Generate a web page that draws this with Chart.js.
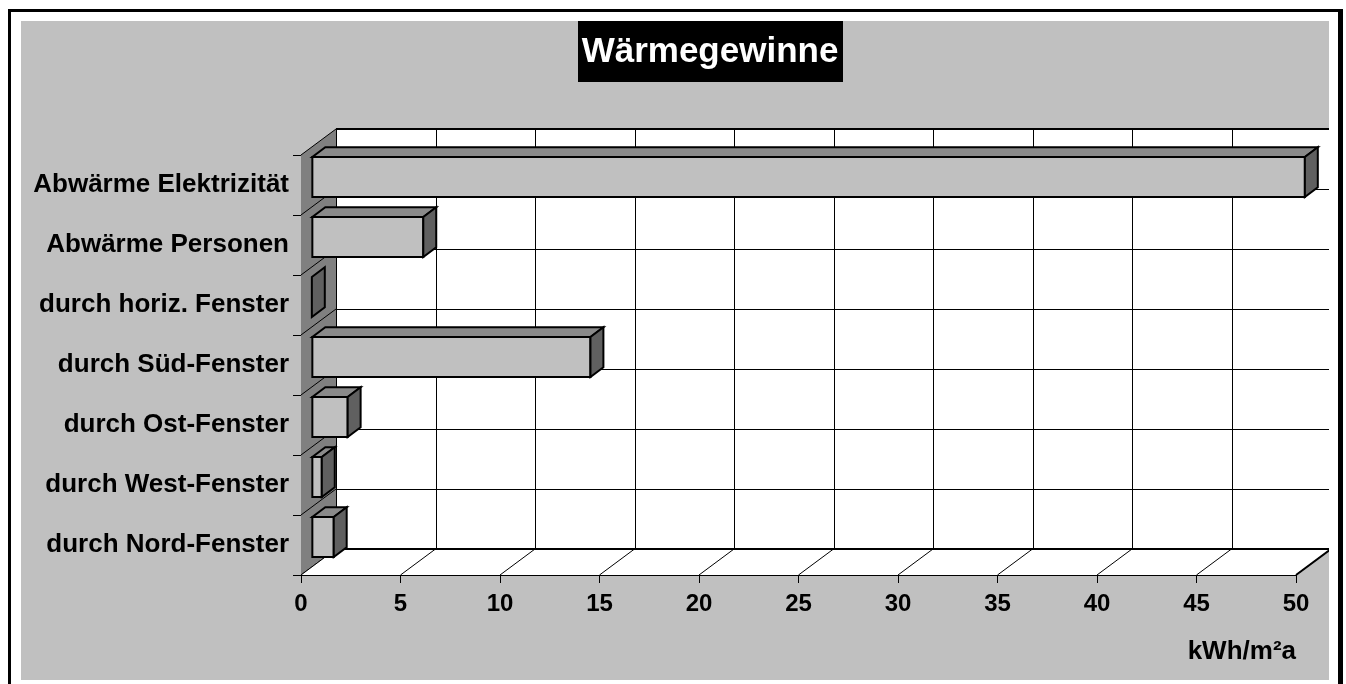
<!DOCTYPE html>
<html>
<head>
<meta charset="utf-8">
<title>Wärmegewinne</title>
<script src="https://cdn.jsdelivr.net/npm/chart.js@4/dist/chart.umd.min.js"></script>
<style>
	body { margin: 0; background: #fff; }
	.frame {
		position: absolute; left: 8px; top: 9px; width: 1327px; height: 700px;
		border-top: 3px solid #000; border-left: 3px solid #000; border-right: 5px solid #000;
	}
	.plot {
		position: absolute; left: 21px; top: 21px; width: 1308px; height: 659px;
		background: #c0c0c0;
	}
	canvas { display: block; }
</style>
</head>
<body>
<div class="frame"></div>
<div class="plot"><canvas id="gains" width="1308" height="659"></canvas></div>
<script>
	'use strict';

	var chartTitle = 'Wärmegewinne';
	var unitLabel = 'kWh/m²a';
	var categories = [
		'Abwärme Elektrizität',
		'Abwärme Personen',
		'durch horiz. Fenster',
		'durch Süd-Fenster',
		'durch Ost-Fenster',
		'durch West-Fenster',
		'durch Nord-Fenster'
	];
	var gains = [49.9, 5.6, 0, 14.0, 1.8, 0.5, 1.1];
	var axisMin = 0, axisMax = 50, axisStep = 5;

	var FONT = '"Liberation Sans", Arial, sans-serif';
	// depth of the fake 3d box and where the bars sit inside it (fractions of depth)
	var DEPTH_X = 35, DEPTH_Y = -26;
	var BAR_FRONT = 0.31, BAR_BACK = 0.68;

	function line(ctx, x1, y1, x2, y2) {
		ctx.beginPath();
		ctx.moveTo(x1, y1);
		ctx.lineTo(x2, y2);
		ctx.stroke();
	}

	function poly(ctx, pts, fill, stroke, width) {
		ctx.beginPath();
		ctx.moveTo(pts[0][0], pts[0][1]);
		for (var i = 1; i < pts.length; i++) ctx.lineTo(pts[i][0], pts[i][1]);
		ctx.closePath();
		if (fill) { ctx.fillStyle = fill; ctx.fill(); }
		if (stroke) { ctx.strokeStyle = stroke; ctx.lineWidth = width || 1; ctx.stroke(); }
	}

	var box3d = {
		id: 'box3d',
		beforeDatasetsDraw: function (chart) {
			var ctx = chart.ctx, a = chart.chartArea,
				xs = chart.scales.x, ys = chart.scales.y,
				L = a.left, R = a.right, T = a.top, B = a.bottom,
				dx = DEPTH_X, dy = DEPTH_Y, i, px, py;

			ctx.save();
			ctx.lineCap = 'butt';

			// back wall
			ctx.fillStyle = '#fff';
			ctx.fillRect(L + dx, T + dy, R - L, B - T);
			ctx.strokeStyle = '#000';
			ctx.lineWidth = 1;
			xs.ticks.forEach(function (t) {
				var x = Math.round(xs.getPixelForValue(t.value) + dx) + 0.5;
				line(ctx, x, T + dy, x, B + dy);
			});
			for (i = 0; i <= categories.length; i++) {
				py = Math.round(ys.getPixelForValue(i - 0.5) + dy) + 0.5;
				line(ctx, L + dx, py, R + dx, py);
			}
			ctx.lineWidth = 2;
			line(ctx, L + dx, T + dy, R + dx, T + dy);

			// left side wall
			poly(ctx, [[L, T], [L + dx, T + dy], [L + dx, B + dy], [L, B]], '#808080');
			ctx.strokeStyle = '#000';
			ctx.lineWidth = 1;
			for (i = 0; i <= categories.length; i++) {
				py = ys.getPixelForValue(i - 0.5);
				line(ctx, L, py, L + dx, py + dy);
			}
			line(ctx, L + dx + 0.5, T + dy, L + dx + 0.5, B + dy);

			// floor
			poly(ctx, [[L, B], [R, B], [R + dx, B + dy], [L + dx, B + dy]], '#fff');
			ctx.strokeStyle = '#000';
			ctx.lineWidth = 1;
			xs.ticks.forEach(function (t) {
				px = xs.getPixelForValue(t.value);
				line(ctx, px, B, px + dx, B + dy);
			});
			line(ctx, L, B + 0.5, R, B + 0.5);
			ctx.lineWidth = 2;
			line(ctx, L + dx, B + dy, R + dx, B + dy);
			line(ctx, R, B, R + dx, B + dy);
			ctx.restore();
		},
		afterDatasetsDraw: function (chart) {
			var ctx = chart.ctx,
				meta = chart.getDatasetMeta(0),
				fx = DEPTH_X * BAR_FRONT, fy = DEPTH_Y * BAR_FRONT,
				ddx = DEPTH_X * (BAR_BACK - BAR_FRONT), ddy = DEPTH_Y * (BAR_BACK - BAR_FRONT);

			ctx.save();
			ctx.lineJoin = 'miter';
			meta.data.forEach(function (bar) {
				var p = bar.getProps(['x', 'y', 'base', 'height'], true),
					x0 = p.base + fx, x1 = p.x + fx,
					y0 = p.y - p.height / 2 + fy, y1 = p.y + p.height / 2 + fy;

				if (x1 - x0 > 0.5) {
					poly(ctx, [[x0, y0], [x1, y0], [x1 + ddx, y0 + ddy], [x0 + ddx, y0 + ddy]], '#8a8a8a', '#000', 2);
					poly(ctx, [[x0, y0], [x1, y0], [x1, y1], [x0, y1]], '#c0c0c0', '#000', 2);
				}
				poly(ctx, [[x1, y0], [x1 + ddx, y0 + ddy], [x1 + ddx, y1 + ddy], [x1, y1]], '#606060', '#000', 2);
			});
			ctx.restore();
		},
		afterDraw: function (chart) {
			var ctx = chart.ctx, cx = 689, w;
			ctx.save();
			ctx.font = 'bold 35px ' + FONT;
			w = ctx.measureText(chartTitle).width + 8;
			ctx.fillStyle = '#000';
			ctx.fillRect(Math.round(cx - w / 2), 0, Math.round(w), 61);
			ctx.fillStyle = '#fff';
			ctx.textAlign = 'center';
			ctx.textBaseline = 'middle';
			ctx.fillText(chartTitle, cx, 31);
			ctx.restore();
		}
	};

	var gainsChart = new Chart(document.getElementById('gains'), {
		type: 'bar',
		data: {
			labels: categories,
			datasets: [{
				data: gains,
				backgroundColor: 'rgba(0,0,0,0)',
				borderWidth: 0,
				categoryPercentage: 1,
				barPercentage: 2 / 3
			}]
		},
		options: {
			indexAxis: 'y',
			responsive: false,
			animation: false,
			layout: { padding: { top: 134, right: 33, bottom: 0, left: 0 } },
			plugins: {
				legend: { display: false },
				tooltip: { enabled: false }
			},
			scales: {
				x: {
					min: axisMin,
					max: axisMax,
					ticks: { stepSize: axisStep, color: '#000', padding: 7, font: { family: FONT, size: 24, weight: 'bold' } },
					grid: { drawOnChartArea: false, drawTicks: true, tickLength: 8, color: '#000' },
					border: { display: false },
					title: {
						display: true, text: unitLabel, align: 'end', color: '#000',
						padding: { top: 0, bottom: 13 },
						font: { family: FONT, size: 26, weight: 'bold' }
					},
					afterFit: function (scale) { scale.height = 105; }
				},
				y: {
					ticks: { color: '#000', padding: 4, font: { family: FONT, size: 26, weight: 'bold' } },
					grid: { drawOnChartArea: false, drawTicks: true, tickLength: 8, color: '#000', offset: true },
					border: { display: false },
					afterFit: function (scale) { scale.width = 280; }
				}
			}
		},
		plugins: [box3d]
	});
</script>
</body>
</html>
